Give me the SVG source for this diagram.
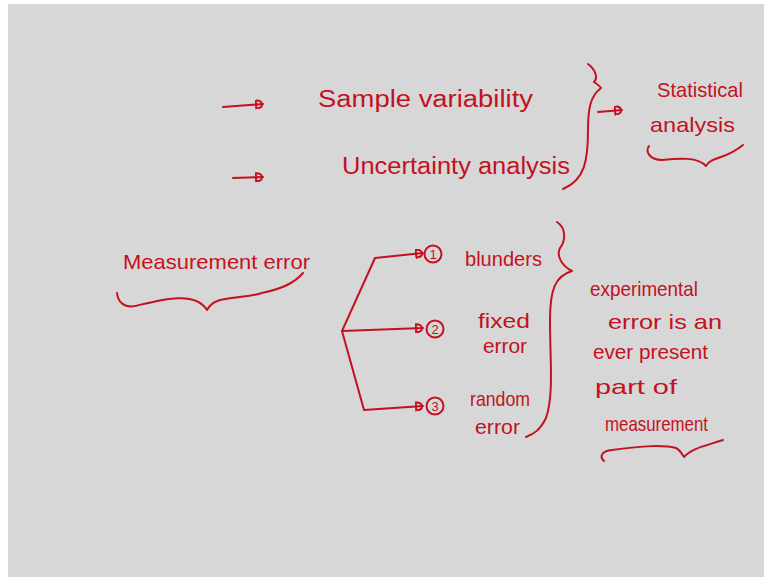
<svg xmlns="http://www.w3.org/2000/svg" width="764" height="577" viewBox="0 0 764 577">
  <defs>
    <style>
      .ink { fill: none; stroke: #c4111f; stroke-width: 2; stroke-linecap: round; stroke-linejoin: round; }
      .txt { fill: #c4111f; font-family: "Liberation Sans", "DejaVu Sans", sans-serif; font-size: 21px; }
      .big { font-size: 23px; }
      .num { fill: #c4111f; font-family: "Liberation Sans", "DejaVu Sans", sans-serif; font-size: 13px; text-anchor: middle; }
    </style>
    <!-- small open loop head, like a quick pen stroke -->
    <marker id="tip" viewBox="0 0 10 10" refX="8" refY="5" markerWidth="5" markerHeight="5" orient="auto">
      <path d="M1,1 C9,1 9,9 1,9 Z" fill="none" stroke="#c4111f" stroke-width="2"/>
    </marker>
  </defs>

  <!-- board -->
  <rect x="0" y="0" width="764" height="577" fill="#ffffff"/>
  <rect x="8" y="4" width="756" height="573" fill="#d7d7d7"/>

  <!-- connectors -->
  <g id="connectors">
    <path class="ink" d="M223,107 L263,104" marker-end="url(#tip)"/>
    <path class="ink" d="M233,178 L263,177" marker-end="url(#tip)"/>
    <path class="ink" d="M598,112 L622,110" marker-end="url(#tip)"/>
    <path class="ink" d="M342,331 L375,258 L423,253" marker-end="url(#tip)"/>
    <path class="ink" d="M342,331 L423,328" marker-end="url(#tip)"/>
    <path class="ink" d="M342,331 L364,410 L423,406" marker-end="url(#tip)"/>
  </g>

  <!-- top list -->
  <g id="sample-variability">
    <text class="txt big" x="318" y="107" textLength="215" lengthAdjust="spacingAndGlyphs">Sample variability</text>
  </g>
  <g id="uncertainty-analysis">
    <text class="txt big" x="342" y="174" textLength="228" lengthAdjust="spacingAndGlyphs">Uncertainty analysis</text>
  </g>
  <g id="top-brace">
    <path class="ink" d="M588,64 C596,70 598,78 594,82 C597,84 600,86 601,88 C590,96 588,110 588,130 C588,160 585,180 563,189"/>
  </g>
  <g id="statistical-analysis">
    <text class="txt" x="657" y="97" textLength="86" lengthAdjust="spacingAndGlyphs">Statistical</text>
    <text class="txt" x="650" y="132" textLength="85" lengthAdjust="spacingAndGlyphs">analysis</text>
    <path class="ink" d="M649,146 C645,152 650,160 662,160 C680,158 698,157 706,166 C712,156 725,160 743,145"/>
  </g>

  <!-- measurement error -->
  <g id="measurement-error">
    <text class="txt" x="123" y="269" textLength="187" lengthAdjust="spacingAndGlyphs">Measurement error</text>
    <path class="ink" d="M117,293 C118,302 124,308 135,306 C160,300 195,290 207,310 C215,294 240,300 262,293 C285,288 295,282 303,273"/>
  </g>

  <g id="blunders">
    <circle class="ink" cx="433" cy="254" r="8.5"/>
    <text class="num" x="433" y="259">1</text>
    <text class="txt" x="465" y="266" textLength="77" lengthAdjust="spacingAndGlyphs">blunders</text>
  </g>
  <g id="fixed-error">
    <circle class="ink" cx="435" cy="329" r="8.5"/>
    <text class="num" x="435" y="334">2</text>
    <text class="txt" x="478" y="328" textLength="52" lengthAdjust="spacingAndGlyphs">fixed</text>
    <text class="txt" x="483" y="353" textLength="44" lengthAdjust="spacingAndGlyphs">error</text>
  </g>
  <g id="random-error">
    <circle class="ink" cx="435" cy="406" r="8.5"/>
    <text class="num" x="435" y="411">3</text>
    <text class="txt" x="470" y="406" textLength="60" lengthAdjust="spacingAndGlyphs">random</text>
    <text class="txt" x="475" y="434" textLength="45" lengthAdjust="spacingAndGlyphs">error</text>
  </g>

  <g id="types-brace">
    <path class="ink" d="M557,222 C566,228 566,240 560,248 C556,256 562,266 572,271 C555,276 550,290 550,320 C550,360 554,395 546,418 C540,430 534,434 526,437"/>
  </g>

  <g id="note">
    <text class="txt" x="590" y="296" textLength="108" lengthAdjust="spacingAndGlyphs">experimental</text>
    <text class="txt" x="608" y="329" textLength="114" lengthAdjust="spacingAndGlyphs">error is an</text>
    <text class="txt" x="593" y="359" textLength="115" lengthAdjust="spacingAndGlyphs">ever present</text>
    <text class="txt" x="595" y="394" textLength="82" lengthAdjust="spacingAndGlyphs">part of</text>
    <text class="txt" x="605" y="431" textLength="103" lengthAdjust="spacingAndGlyphs">measurement</text>
    <path class="ink" d="M604,461 C599,456 602,451 612,450 C635,447 660,444 676,448 C680,450 682,454 684,457 C692,448 705,446 723,440"/>
  </g>
</svg>
